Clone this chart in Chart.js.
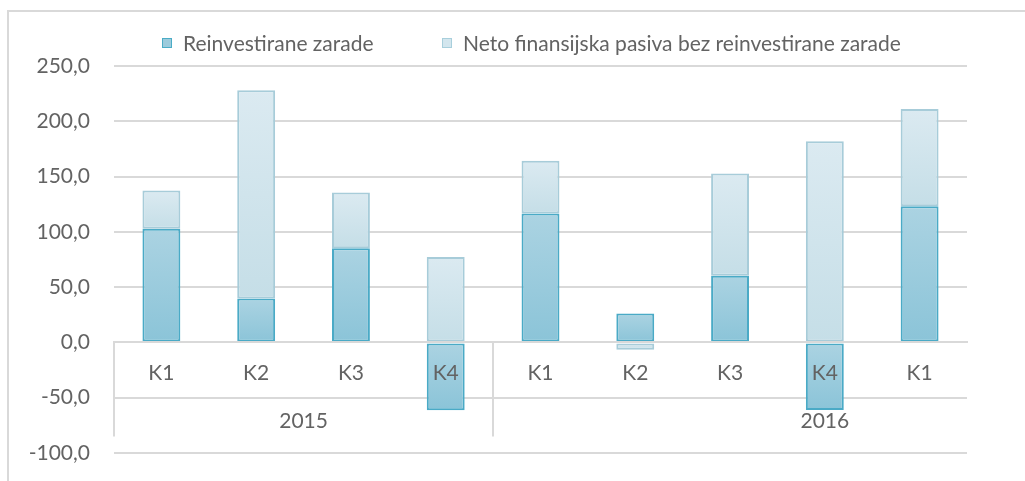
<!DOCTYPE html>
<html>
<head>
<meta charset="utf-8">
<script src="https://cdn.jsdelivr.net/npm/chart.js@4.4.1/dist/chart.umd.min.js"></script>
<style>
  body { margin: 0; background: #fff; }
  #wrap { position: relative; width: 1025px; height: 481px; overflow: hidden; }
  #legend { position: absolute; top: 29px; left: 0; width: 1025px; height: 28px;
            font-family: Lato, sans-serif; font-size: 21px; color: #636363; }
  .item { position: absolute; top: 0; line-height: 28px; white-space: nowrap; }
  .box { position: absolute; top: 9px; left: 0; width: 8px; height: 8px; border: 1px solid; }
  .item span { position: absolute; left: 21px; top: 0; }
</style>
</head>
<body>
<div id="wrap">
  <canvas id="chart" width="1025" height="481"></canvas>
  <div id="legend">
    <div class="item" style="left:162px">
      <div class="box" style="background:#9ccbdc;border-color:#4bacc6"></div><span>Reinvestirane zarade</span>
    </div>
    <div class="item" style="left:442px">
      <div class="box" style="background:#d3e6ee;border-color:#a8cfdc"></div><span>Neto finansijska pasiva bez reinvestirane zarade</span>
    </div>
  </div>
</div>
<script>
// quarters, with the year groups drawn underneath
const kvartali = ['K1', 'K2', 'K3', 'K4', 'K1', 'K2', 'K3', 'K4', 'K1'];
const godine = ['2015', '2016'];

const reinvestirano = [102.9, 39.8, 85.1, -61.3, 116.5, 26.2, 60.4, -61.0, 123.1];
const netoPasiva = [34.4, 188.3, 50.4, 77.3, 47.7, -6.6, 92.3, 181.9, 88.1];

const yTicks = [-100, -50, 0, 50, 100, 150, 200, 250];

const gridColor = '#d9d9d9';
const textColor = '#636363';

// value span of a stacked bar (positive and negative stacks are separate)
function barSpan(ds, i) {
    const r = reinvestirano[i], n = netoPasiva[i];
    if (ds === 0) return [0, r];
    const base = n >= 0 ? Math.max(r, 0) : Math.min(r, 0);
    return [base, base + n];
}

// vertical gradient per bar, light at the top, darker at the bottom
function gradientFill(topColor, bottomColor) {
    return function (ctx) {
        const chart = ctx.chart;
        const y = chart.scales.y;
        if (!y || ctx.dataIndex === undefined) return bottomColor;
        const span = barSpan(ctx.datasetIndex, ctx.dataIndex);
        const top = y.getPixelForValue(Math.max(span[0], span[1]));
        const bottom = y.getPixelForValue(Math.min(span[0], span[1]));
        if (!isFinite(top) || !isFinite(bottom) || bottom - top < 1) return bottomColor;
        const g = chart.ctx.createLinearGradient(0, top, 0, bottom);
        g.addColorStop(0, topColor);
        g.addColorStop(1, bottomColor);
        return g;
    };
}

// outer frame, category table lines and year labels
const decorations = {
    id: 'decorations',
    beforeDraw(chart) {
        const ctx = chart.ctx;
        ctx.save();
        ctx.strokeStyle = gridColor;
        ctx.lineWidth = 2;
        ctx.strokeRect(8, 11, 1100, 600);
        ctx.restore();
    },
    afterDraw(chart) {
        const ctx = chart.ctx;
        const x = chart.scales.x;
        const y = chart.scales.y;
        const area = chart.chartArea;
        const y0 = y.getPixelForValue(0);
        const split = (x.getPixelForValue(3) + x.getPixelForValue(4)) / 2;

        ctx.save();
        ctx.strokeStyle = gridColor;
        ctx.lineWidth = 2;
        [area.left, split].forEach(px => {
            ctx.beginPath();
            ctx.moveTo(Math.round(px), y0);
            ctx.lineTo(Math.round(px), y0 + 94);
            ctx.stroke();
        });

        ctx.fillStyle = textColor;
        ctx.font = '21px Lato, sans-serif';
        ctx.textAlign = 'center';
        ctx.textBaseline = 'middle';
        ctx.fillText(godine[0], (area.left + split) / 2, y0 + 79);
        ctx.fillText(godine[1], x.getPixelForValue(7), y0 + 79);
        ctx.restore();
    }
};

new Chart(document.getElementById('chart'), {
    type: 'bar',
    data: {
        labels: kvartali,
        datasets: [
            {
                label: 'Reinvestirane zarade',
                data: reinvestirano,
                backgroundColor: gradientFill('#abd3e2', '#8bc4d8'),
                borderColor: '#4aaac6',
                borderWidth: 2,
                borderSkipped: false
            },
            {
                label: 'Neto finansijska pasiva bez reinvestirane zarade',
                data: netoPasiva,
                backgroundColor: gradientFill('#dbeaf1', '#c5dee7'),
                borderColor: '#a7ccd9',
                borderWidth: 2,
                borderSkipped: false
            }
        ]
    },
    options: {
        responsive: false,
        animation: false,
        layout: { padding: { top: 66, right: 58, bottom: 28, left: 0 } },
        plugins: {
            legend: { display: false },
            tooltip: { enabled: false }
        },
        datasets: {
            bar: { barPercentage: 0.4, categoryPercentage: 1 }
        },
        scales: {
            x: {
                stacked: true,
                position: { y: 0 },
                grid: { display: false, drawTicks: false },
                border: { display: true, color: gridColor, width: 2, z: 1 },
                ticks: {
                    z: 1,
                    color: textColor,
                    font: { family: 'Lato', size: 21 },
                    padding: 18,
                    maxRotation: 0,
                    autoSkip: false
                },
                afterFit(scale) { scale.height = 0; }
            },
            y: {
                stacked: true,
                min: yTicks[0],
                max: yTicks[yTicks.length - 1],
                afterBuildTicks(scale) { scale.ticks = yTicks.map(v => ({ value: v })); },
                grid: { color: gridColor, lineWidth: 2, drawTicks: false },
                border: { display: false },
                ticks: {
                    color: textColor,
                    font: { family: 'Lato', size: 21 },
                    padding: 24,
                    callback: v => v.toFixed(1).replace('.', ',')
                },
                afterFit(scale) {
                    scale.width = 114;
                    scale.paddingTop = 0;
                    scale.paddingBottom = 0;
                }
            }
        }
    },
    plugins: [decorations]
});
</script>
</body>
</html>
